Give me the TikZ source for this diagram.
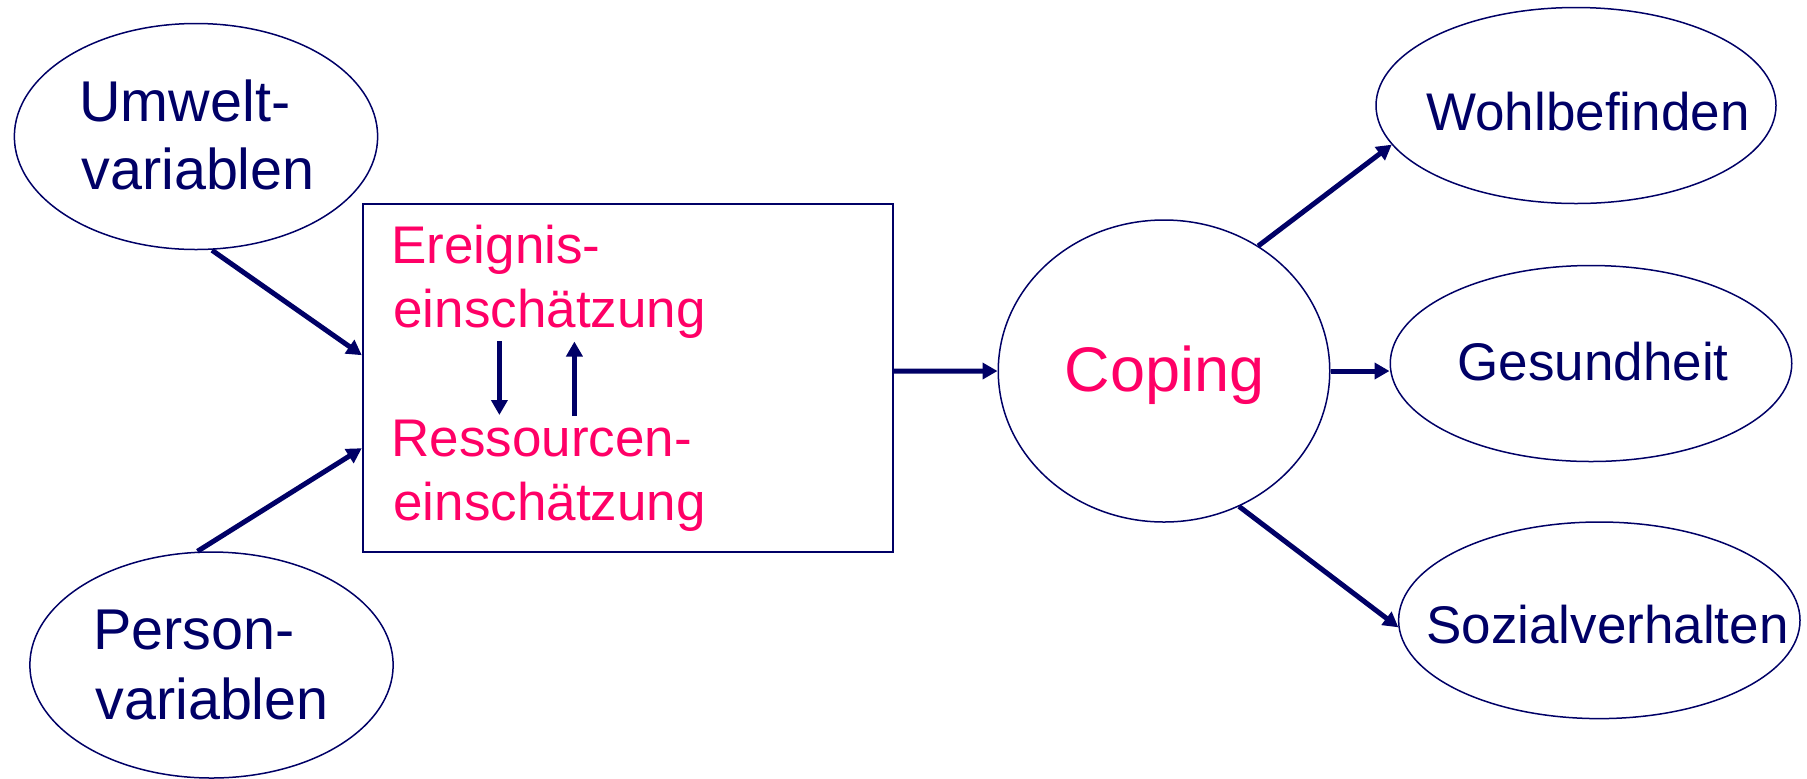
\documentclass[tikz,border=0pt]{standalone}
\usepackage{fontspec}
\setmainfont{Liberation Sans}
\usetikzlibrary{arrows.meta,shapes.geometric,calc}
\definecolor{navy}{RGB}{0,0,102}
\definecolor{rose}{RGB}{255,0,102}
\begin{document}
\begin{tikzpicture}[x=0.5pt,y=-0.5pt,
  oval/.style={ellipse,draw=navy,line width=0.75pt,inner sep=0pt},
  frame/.style={rectangle,draw=navy,line width=1pt,inner sep=0pt},
  conn/.style={draw=navy,line width=2.5pt,-{Triangle[length=7.5pt,width=8pt]}},
  biglbl/.style={inner sep=0pt,text=navy,font=\fontsize{28.75}{34}\selectfont},
  boxlbl/.style={inner sep=0pt,text=rose,font=\fontsize{26.5}{32}\selectfont},
  outlbl/.style={inner sep=0pt,text=navy,font=\fontsize{26.5}{32}\selectfont},
  coplbl/.style={inner sep=0pt,text=rose,font=\fontsize{31.5}{38}\selectfont}]
\useasboundingbox (0,0) rectangle (1807,778);

% shapes
\node[oval,minimum width=181.65pt,minimum height=113pt] (umw) at (196,136.5) {};
\node[oval,minimum width=181.65pt,minimum height=113pt] (per) at (211.5,665) {};
\node[frame,minimum width=264.9pt,minimum height=174.2pt] (box) at (627.7,378.2) {};
\node[oval,minimum width=165.75pt,minimum height=151pt] (cop) at (1164,371) {};
\node[oval,minimum width=200pt,minimum height=98pt] (wohl) at (1576,105.5) {};
\node[oval,minimum width=200.75pt,minimum height=98pt] (ges) at (1591,363.5) {};
\node[oval,minimum width=200.7pt,minimum height=98.3pt] (soz) at (1599.3,620.3) {};

% texts
\node[biglbl,anchor=base west] (umw1) at (79,121) {Umwelt-};
\node[biglbl,anchor=base west] (umw2) at (81,189) {variablen};
\node[biglbl,anchor=base west] (per1) at (93,649) {Person-};
\node[biglbl,anchor=base west] (per2) at (95,719) {variablen};
\node[boxlbl,anchor=base west] (ev1) at (391,263) {Ereignis-};
\node[boxlbl,anchor=base west] (ev2) at (393,327) {einschätzung};
\node[boxlbl,anchor=base west] (rs1) at (391,456) {Ressourcen-};
\node[boxlbl,anchor=base west] (rs2) at (393,520) {einschätzung};
\node[coplbl,anchor=base] (copt) at (1164.5,391) {Coping};
\node[outlbl,anchor=base] (wohlt) at (1588,130) {Wohlbefinden};
\node[outlbl,anchor=base] (gest) at (1593,380) {Gesundheit};
\node[outlbl,anchor=base] (sozt) at (1607.5,643) {Sozialverhalten};

% inner arrow ends
\coordinate (dtop) at (499.4,341);
\coordinate (dbot) at (499.4,415);
\coordinate (ubot) at (574.4,416);
\coordinate (utop) at (574.4,341.5);

% connectors
\draw[conn] ([xshift=8pt]umw.south) -- ([yshift=11.5pt]box.west);
\draw[conn] ([xshift=-7pt]per.north) -- ([yshift=-35pt]box.west);
\draw[conn] (dtop) -- (dbot);
\draw[conn] (ubot) -- (utop);
\draw[conn] ([yshift=3.5pt]box.east) -- (cop.west);
\draw[conn] (cop.east) -- ([yshift=-3.75pt]ges.west);
\draw[conn] (cop.53) -- (wohl.192);
\draw[conn] (cop.-61) -- (soz.182);
\end{tikzpicture}
\end{document}
